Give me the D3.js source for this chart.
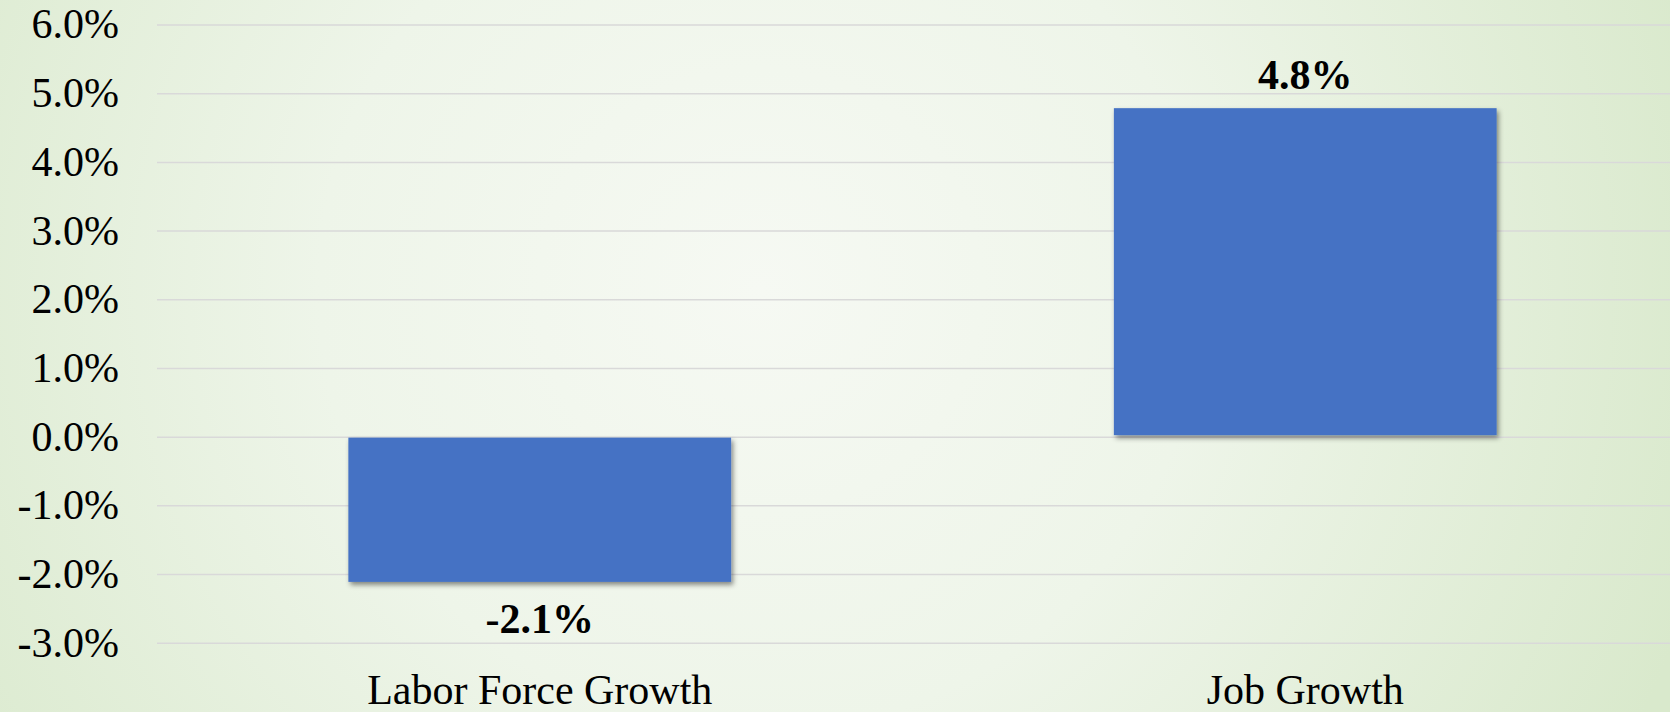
<!DOCTYPE html>
<html>
<head>
<meta charset="utf-8">
<script src="https://cdn.jsdelivr.net/npm/d3@7"></script>
<style>
	html, body { margin: 0; padding: 0; overflow: hidden; }
	#chart { width: 1670px; height: 712px; }
	text { font-family: "Liberation Serif", "Times New Roman", serif; }
</style>
</head>
<body>
<div id="chart"></div>
<script>
var categories = ["Labor Force Growth", "Job Growth"];
var values = [-2.1, 4.76];
var tickValues = [-3, -2, -1, 0, 1, 2, 3, 4, 5, 6];

(function() {
	var width = 1670,
		height = 712;

	var svg = d3.select("#chart")
		.append("svg")
		.attr("width", width)
		.attr("height", height);

	var defs = svg.append("defs");

	var bg = defs.append("radialGradient")
		.attr("id", "bg")
		.attr("gradientUnits", "userSpaceOnUse")
		.attr("cx", 760).attr("cy", 290).attr("r", 980);
	bg.append("stop").attr("offset", "0%").attr("stop-color", "#f6f9f3");
	bg.append("stop").attr("offset", "45%").attr("stop-color", "#eef5e9");
	bg.append("stop").attr("offset", "100%").attr("stop-color", "#d9e9cc");

	var shadow = defs.append("filter")
		.attr("id", "shadow")
		.attr("x", "-10%").attr("y", "-10%")
		.attr("width", "130%").attr("height", "130%");
	shadow.append("feDropShadow")
		.attr("dx", 2).attr("dy", 3)
		.attr("stdDeviation", 2.5)
		.attr("flood-color", "#000")
		.attr("flood-opacity", 0.45);

	svg.append("rect")
		.attr("width", width)
		.attr("height", height)
		.attr("fill", "url(#bg)");

	var x = d3.scaleBand()
		.domain(categories)
		.range([157, 1688])
		.paddingInner(0.5)
		.paddingOuter(0.25);

	var y = d3.scaleLinear()
		.domain([-3, 6])
		.range([642.7, 24.5]);

	var locale = d3.formatLocale({
		decimal: ".", thousands: ",", grouping: [3],
		currency: ["$", ""], minus: "-"
	});
	var pct = locale.format(".1f");

	// gridlines
	svg.append("g")
		.attr("class", "grid")
		.attr("transform", "translate(157,0)")
		.call(d3.axisLeft(y).tickValues(tickValues).tickSize(-(width - 157)).tickFormat(""))
		.call(function(g) {
			g.select(".domain").remove();
			g.selectAll("line").attr("stroke", "#d9d9d9").attr("stroke-width", 1.5);
		});

	// y tick labels
	svg.append("g")
		.attr("transform", "translate(119,0)")
		.call(d3.axisLeft(y).tickValues(tickValues).tickSize(0).tickPadding(0)
			.tickFormat(function(d) { return pct(d) + "%"; }))
		.call(function(g) {
			g.select(".domain").remove();
			g.selectAll("text")
				.attr("font-family", "Liberation Serif, Times New Roman, serif")
				.attr("font-size", 42)
				.attr("fill", "#000");
		});

	var data = categories.map(function(c, i) { return { cat: c, value: values[i] }; });

	svg.selectAll(".bar")
		.data(data)
		.enter().append("rect")
		.attr("class", "bar")
		.attr("x", function(d) { return x(d.cat); })
		.attr("width", x.bandwidth())
		.attr("y", function(d) { return Math.min(y(d.value), y(0)) + (d.value < 0 ? 1 : -1.5); })
		.attr("height", function(d) { return Math.abs(y(d.value) - y(0)); })
		.attr("fill", "#4472c4")
		.attr("filter", "url(#shadow)");

	svg.selectAll(".value")
		.data(data)
		.enter().append("text")
		.attr("class", "value")
		.attr("x", function(d) { return x(d.cat) + x.bandwidth() / 2; })
		.attr("y", function(d) { return d.value >= 0 ? y(d.value) - 21 : y(d.value) + 52; })
		.attr("text-anchor", "middle")
		.attr("font-size", 42)
		.attr("font-weight", "bold")
		.text(function(d) { return pct(d.value) + "%"; });

	svg.selectAll(".cat")
		.data(categories)
		.enter().append("text")
		.attr("class", "cat")
		.attr("x", function(d) { return x(d) + x.bandwidth() / 2; })
		.attr("y", 704)
		.attr("text-anchor", "middle")
		.attr("font-size", 42)
		.text(function(d) { return d; });
})();
</script>
</body>
</html>
